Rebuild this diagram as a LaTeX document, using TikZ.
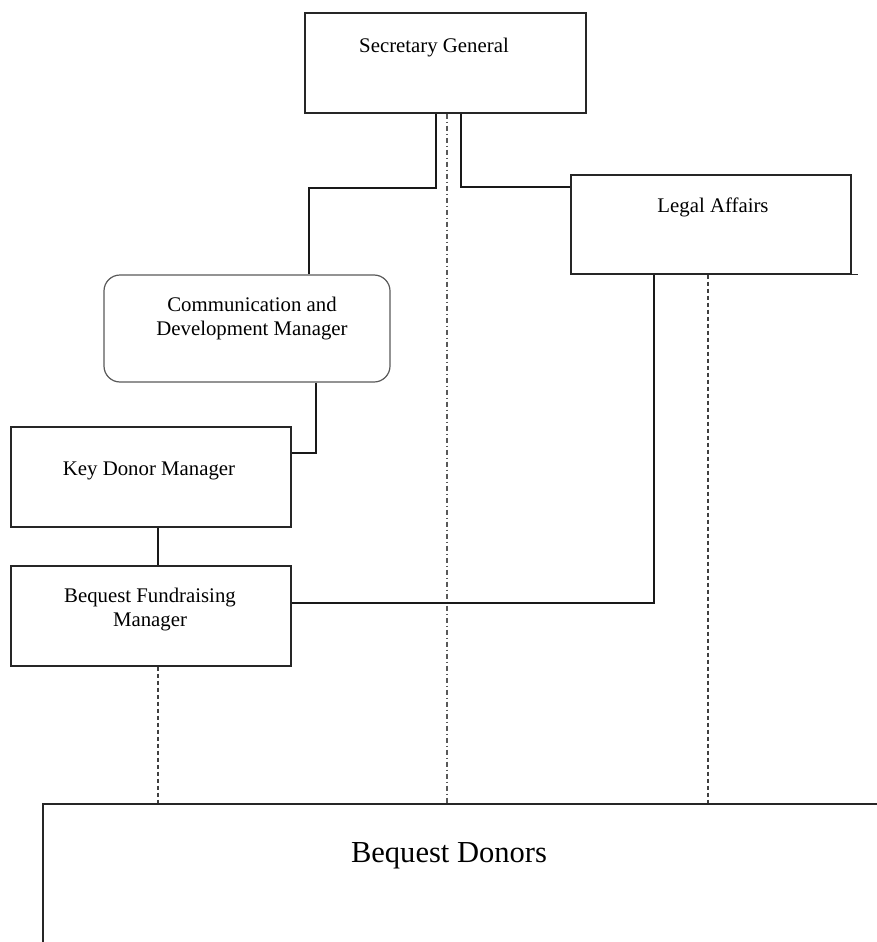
\documentclass[tikz,border=0pt]{standalone}
\usepackage{fontspec}
\setmainfont{Liberation Serif}
\usetikzlibrary{fit}
\begin{document}
\begin{tikzpicture}[x=0.75pt,y=-0.75pt,
  boxs/.style={draw=black!85, line width=0.9pt, inner sep=0pt},
  rbox/.style={boxs, draw=black!65, rounded corners=12pt},
  lbl/.style={font=\fontsize{15.6}{18}\selectfont, anchor=base, inner sep=0pt, align=center},
  biglbl/.style={font=\fontsize{22.9}{26}\selectfont, anchor=base, inner sep=0pt},
  conn/.style={draw=black!90, line width=0.8pt},
  dashc/.style={conn, draw=black!75, dash pattern=on 3pt off 2.25pt},
  dashdot/.style={conn, draw=black!65, dash pattern=on 3.75pt off 2.25pt on 0.75pt off 2.25pt}]
\useasboundingbox (0,0) rectangle (877,942);
\clip (0,0) rectangle (877,942);
% boxes
\node[boxs, fit={(305,13) (586,113)}] (sg) {};
\node[boxs, fit={(571,175) (851,274)}] (la) {};
\node[rbox, fit={(104,275) (390,382)}] (comm) {};
\node[boxs, fit={(11,427) (291,527)}] (kd) {};
\node[boxs, fit={(11,566) (291,666)}] (bfm) {};
\node[boxs, fit={(43,804) (930,1000)}] (bd) {};
% labels
\node[lbl] (sgt) at (434,53) {Secretary General};
\node[lbl] (lat) at (713,212) {Legal Affairs};
\node[lbl] (commt) at (252,335) {Communication and\\Development Manager};
\node[lbl] (kdt) at (149,475) {Key Donor Manager};
\node[lbl] (bfmt) at (150,626) {Bequest Fundraising\\Manager};
\node[biglbl] (bdt) at (449,862) {Bequest Donors};
% connectors
\draw[conn] (sg.south -| 436,0) |- (309,188) -- (comm.north -| 309,0);
\draw[conn] (sg.south -| 461,0) |- (la.west |- 0,187);
\draw[dashdot] (sg.south -| 447,0) -- (bd.north -| 447,0);
\draw[conn] (comm.south -| 316,0) |- (kd.east |- 0,453);
\draw[conn] (kd.south -| 158,0) -- (bfm.north -| 158,0);
\draw[conn] (bfm.east |- 0,603) -| (la.south -| 654,0);
\draw[dashc] (bfm.south -| 158,0) -- (bd.north -| 158,0);
\draw[dashc] (la.south -| 708,0) -- (bd.north -| 708,0);
\draw[boxs] (la.south east) -- ++(6,0);
\end{tikzpicture}
\end{document}
